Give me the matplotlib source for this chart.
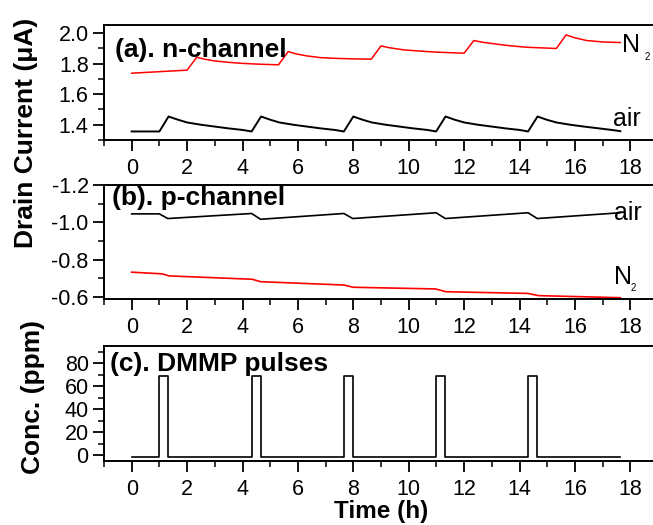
import matplotlib
matplotlib.use("Agg")
import matplotlib.pyplot as plt
from matplotlib.ticker import MultipleLocator

plt.rcParams['font.family'] = ['Liberation Sans', 'DejaVu Sans']
plt.rcParams['axes.unicode_minus'] = False

# (a) n-channel drain current (uA)
t_air_a = [0, 1.0, 1.33, 1.67, 2.0, 2.5, 3.0, 3.5, 4.0, 4.33,
           4.67, 5.0, 5.33, 5.83, 6.33, 6.83, 7.33, 7.66,
           8.0, 8.33, 8.67, 9.17, 9.67, 10.17, 10.67, 10.99,
           11.33, 11.66, 12.0, 12.5, 13.0, 13.5, 14.0, 14.31,
           14.65, 14.98, 15.33, 15.83, 16.33, 16.83, 17.33, 17.64]
air_a = [1.356, 1.356, 1.454, 1.433, 1.415, 1.400, 1.388, 1.376, 1.366, 1.356,
         1.454, 1.433, 1.415, 1.400, 1.388, 1.376, 1.366, 1.356,
         1.454, 1.433, 1.415, 1.400, 1.388, 1.376, 1.366, 1.356,
         1.454, 1.433, 1.415, 1.400, 1.388, 1.376, 1.366, 1.356,
         1.454, 1.433, 1.415, 1.400, 1.388, 1.377, 1.366, 1.358]

t_n2_a = [0, 2.0, 2.35, 2.6, 2.97, 3.45, 3.94, 4.6, 5.3,
          5.65, 5.9, 6.3, 6.82, 7.4, 8.0, 8.65,
          9.0, 9.3, 9.82, 10.4, 11.0, 12.0,
          12.35, 12.7, 13.2, 13.7, 14.27, 15.33,
          15.68, 16.0, 16.43, 17.0, 17.64]
n2_a = [1.738, 1.758, 1.843, 1.831, 1.819, 1.810, 1.803, 1.797, 1.793,
        1.880, 1.866, 1.852, 1.840, 1.835, 1.832, 1.830,
        1.917, 1.905, 1.891, 1.883, 1.876, 1.869,
        1.952, 1.940, 1.928, 1.917, 1.908, 1.900,
        1.989, 1.970, 1.952, 1.943, 1.939]

# (b) p-channel drain current (uA)
t_air_b = [0, 1.0, 1.3, 4.33, 4.65, 7.66, 7.98, 10.99, 11.32, 14.31, 14.64, 17.64]
air_b = [-1.045, -1.045, -1.020, -1.047, -1.016, -1.047, -1.020,
         -1.051, -1.020, -1.051, -1.020, -1.051]

t_n2_b = [0, 1.1, 1.35, 4.35, 4.65, 7.66, 8.0, 10.97, 11.35, 14.3, 14.7, 17.64]
n2_b = [-0.732, -0.723, -0.712, -0.694, -0.681, -0.663, -0.651,
        -0.642, -0.627, -0.618, -0.606, -0.595]

# (c) DMMP pulses (ppm)
t_pulse = [0, 1.0, 1.0, 1.32, 1.32, 4.33, 4.33, 4.65, 4.65,
           7.66, 7.66, 7.98, 7.98, 10.99, 10.99, 11.32, 11.32,
           14.31, 14.31, 14.64, 14.64, 17.64]
conc = [-1.7, -1.7, 68.5, 68.5, -1.7, -1.7, 68.5, 68.5, -1.7,
        -1.7, 68.5, 68.5, -1.7, -1.7, 68.5, 68.5, -1.7,
        -1.7, 68.5, 68.5, -1.7, -1.7]

W, H = 653, 525
fig = plt.figure(figsize=(W / 100, H / 100), dpi=100)

left = 104 / W
width = 554 / W
ax_a = fig.add_axes([left, 1 - 140 / H, width, 115 / H])
ax_b = fig.add_axes([left, 1 - 299 / H, width, 114 / H])
ax_c = fig.add_axes([left, 1 - 461 / H, width, 115 / H])

ax_a.plot(t_air_a, air_a, color='black', lw=1.4)
ax_a.plot(t_n2_a, n2_a, color='#ff0000', lw=1.1)
ax_b.plot(t_air_b, air_b, color='black', lw=1.2)
ax_b.plot(t_n2_b, n2_b, color='#ff0000', lw=1.2)
ax_c.plot(t_pulse, conc, color='black', lw=1.2)

ax_a.set_ylim(1.3, 2.054)
ax_a.yaxis.set_major_locator(MultipleLocator(0.2))
ax_a.yaxis.set_minor_locator(MultipleLocator(0.1))
ax_a.yaxis.set_major_formatter(plt.FormatStrFormatter('%.1f'))

ax_b.set_ylim(-0.588, -1.2)
ax_b.yaxis.set_major_locator(MultipleLocator(0.2))
ax_b.yaxis.set_minor_locator(MultipleLocator(0.1))
ax_b.yaxis.set_major_formatter(plt.FormatStrFormatter('%.1f'))

ax_c.set_ylim(-5, 95)
ax_c.yaxis.set_major_locator(MultipleLocator(20))
ax_c.yaxis.set_minor_locator(MultipleLocator(10))

for ax in (ax_a, ax_b, ax_c):
    ax.set_xlim(-1, 19)
    ax.xaxis.set_major_locator(MultipleLocator(2))
    ax.xaxis.set_minor_locator(MultipleLocator(1))
    ax.tick_params(which='major', direction='out', length=8, width=1.3,
                   labelsize=15.5, pad=3)
    ax.tick_params(axis='x', which='major', pad=5)
    ax.tick_params(which='minor', direction='out', length=4, width=1.1)
    for s in ax.spines.values():
        s.set_linewidth(1.4)

title_kw = dict(fontsize=19, fontweight='bold', va='baseline', ha='left')
ax_a.text(0.02, 0.724, '(a). n-channel', transform=ax_a.transAxes, **title_kw)
ax_b.text(0.014, 0.825, '(b). p-channel', transform=ax_b.transAxes, **title_kw)
ax_c.text(0.011, 0.78, '(c). DMMP pulses', transform=ax_c.transAxes, **title_kw)

lab_kw = dict(fontsize=18, va='baseline', ha='left')
sub_kw = dict(fontsize=7, va='baseline', ha='left')
ax_a.text(17.71, 1.880, 'N', **lab_kw)
ax_a.text(18.5, 1.825, '2', **sub_kw)
ax_a.text(17.38, 1.389, 'air', **lab_kw)
ax_b.text(17.4, -1.0146, 'air', **lab_kw)
ax_b.text(17.4, -0.669, 'N', **lab_kw)
ax_b.text(18.0, -0.632, '2', **sub_kw)

fig.text(26.5 / W, 1 - 133 / H, 'Drain Current (\u03bcA)', rotation=90,
         fontsize=19, fontweight='bold', ha='center', va='center')
fig.text(33.5 / W, 1 - 397 / H, 'Conc. (ppm)', rotation=90,
         fontsize=19, fontweight='bold', ha='center', va='center')
fig.text(381 / W, 1 - 518 / H, 'Time (h)', fontsize=17.5, fontweight='bold',
         ha='center', va='baseline')

fig.savefig('out.png', dpi=100)
